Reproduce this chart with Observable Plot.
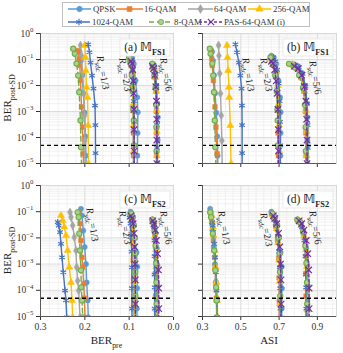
<!DOCTYPE html>
<html><head><meta charset="utf-8">
<script src="https://cdn.jsdelivr.net/npm/d3@7"></script>
<script src="https://cdn.jsdelivr.net/npm/@observablehq/plot@0.6"></script>
<style>
body{margin:0;background:#fff;}
#root{position:relative;width:343px;height:353px;overflow:hidden;font-family:"Liberation Serif","Times New Roman",serif;background:#fff;}
.panel{position:absolute;}
#legend{position:absolute;left:62px;top:2px;width:246px;height:23px;border:1px solid #bfbfbf;background:#fff;z-index:5;}
.lt{position:absolute;font-family:"Liberation Serif","Times New Roman",serif;font-size:8.8px;line-height:10px;color:#333;white-space:nowrap;}
.ls{position:absolute;}
</style></head><body><div id="root"><div id="legend"></div></div>
<script>
// ---------------- data ----------------
const seriesNames = ["QPSK","16-QAM","64-QAM","256-QAM","1024-QAM","8-QAM","PAS-64-QAM (i)"];
const seriesColors = ["#5B9BD5","#ED7D31","#A5A5A5","#FFC000","#4472C4","#70AD47","#7030A0"];
const seriesSymbols = ["circle","square","diamond","triangle","asterisk","circle","times"];
const seriesDash = [null,null,null,null,null,"5,3","3,2"];
const rateNames = ["1/3","2/3","5/6"];
const berThreshold = [5e-5];

// each point: [BER_pre, ASI, BER_post-SD]
const fs1_r13 = {
  "QPSK": [[0.212,0.350,0.2],[0.209,0.355,0.09],[0.206,0.36,0.025],[0.2035,0.366,0.005],[0.2005,0.372,9e-4],[0.1985,0.377,1.1e-4],[0.1975,0.379,2e-5],[0.197,0.38,8e-6]],
  "16-QAM": [[0.215,0.345,0.22],[0.2127,0.348,0.107],[0.2113,0.351,0.059],[0.2098,0.357,0.0155],[0.2075,0.365,0.0015],[0.2052,0.37,2.5e-4],[0.2037,0.376,2.4e-5],[0.203,0.378,8e-6]],
  "64-QAM": [[0.2098,0.384,0.35],[0.2075,0.386,0.14],[0.2052,0.39,0.029],[0.2023,0.394,0.0049],[0.2007,0.398,7e-4],[0.2,0.401,7.6e-5],[0.1996,0.403,8e-6]],
  "256-QAM": [[0.2,0.428,0.35],[0.1985,0.431,0.12],[0.1978,0.434,0.038],[0.1962,0.438,0.0085],[0.194,0.44,0.0035],[0.1924,0.445,2.9e-4],[0.1917,0.449,1e-5],[0.1915,0.45,7e-6]],
  "1024-QAM": [[0.1924,0.472,0.38],[0.1895,0.48,0.19],[0.1872,0.49,0.076],[0.1838,0.498,0.024],[0.1805,0.504,0.0076],[0.177,0.506,0.0017],[0.1762,0.507,3e-4],[0.1759,0.507,2.5e-5],[0.1759,0.507,7e-6]],
  "8-QAM": [[0.2262,0.338,0.26],[0.2226,0.342,0.166],[0.2188,0.351,0.07],[0.215,0.356,0.024],[0.2127,0.36,0.0055],[0.2098,0.364,4.5e-4],[0.2086,0.367,4.2e-5],[0.2075,0.37,8e-6]]
};
const fs1_r23 = {
  "QPSK": [[0.097,0.66,0.14],[0.093,0.672,0.12],[0.0895,0.685,0.068],[0.0857,0.697,0.0155],[0.0818,0.705,0.0035],[0.0805,0.708,9.4e-4],[0.081,0.708,1.5e-4],[0.0815,0.707,2e-5],[0.0818,0.707,8e-6]],
  "16-QAM": [[0.0985,0.66,0.091],[0.096,0.672,0.06],[0.0935,0.683,0.025],[0.092,0.69,0.006],[0.091,0.693,0.0011],[0.0905,0.695,1.5e-4],[0.0902,0.696,2e-5],[0.09,0.696,8e-6]],
  "64-QAM": [[0.099,0.662,0.1],[0.0965,0.673,0.07],[0.094,0.684,0.03],[0.0925,0.691,0.008],[0.0915,0.695,0.0015],[0.091,0.697,2e-4],[0.0905,0.698,2.5e-5],[0.0905,0.698,8e-6]],
  "256-QAM": [[0.0975,0.665,0.11],[0.095,0.676,0.08],[0.093,0.687,0.035],[0.0915,0.694,0.01],[0.0905,0.698,0.002],[0.09,0.7,3e-4],[0.0897,0.701,3e-5],[0.0897,0.701,8e-6]],
  "1024-QAM": [[0.096,0.67,0.12],[0.0935,0.68,0.085],[0.092,0.69,0.04],[0.0905,0.698,0.012],[0.0895,0.703,0.0025],[0.0888,0.705,4e-4],[0.0885,0.706,5e-5],[0.0885,0.706,8e-6]],
  "8-QAM": [[0.1,0.655,0.12],[0.0965,0.668,0.07],[0.094,0.68,0.025],[0.092,0.688,0.006],[0.0905,0.692,0.0012],[0.0895,0.693,4.5e-4],[0.0893,0.694,5e-5],[0.0893,0.694,8e-6]],
  "PAS-64-QAM (i)": [[0.096,0.66,0.085],[0.0935,0.668,0.07],[0.092,0.677,0.04],[0.0905,0.685,0.015],[0.0898,0.69,0.005],[0.0893,0.694,0.0012],[0.089,0.696,2e-4],[0.0888,0.697,3e-5],[0.0888,0.697,8e-6]]
};
const fs1_r56 = {
  "QPSK": [[0.0455,0.78,0.065],[0.0435,0.8,0.055],[0.041,0.82,0.03],[0.039,0.835,0.01],[0.0365,0.845,0.002],[0.0354,0.848,6e-4],[0.0356,0.848,8e-5],[0.036,0.848,1e-5],[0.036,0.848,7e-6]],
  "16-QAM": [[0.047,0.77,0.06],[0.0445,0.795,0.045],[0.042,0.815,0.02],[0.0395,0.83,0.006],[0.0385,0.838,0.001],[0.0383,0.84,1.5e-4],[0.0382,0.841,2e-5],[0.0382,0.841,8e-6]],
  "64-QAM": [[0.0465,0.77,0.062],[0.044,0.795,0.048],[0.0415,0.816,0.022],[0.0395,0.831,0.007],[0.0385,0.839,0.0013],[0.0382,0.842,2e-4],[0.038,0.843,2.5e-5],[0.038,0.843,8e-6]],
  "256-QAM": [[0.046,0.775,0.06],[0.0435,0.798,0.045],[0.041,0.818,0.02],[0.039,0.833,0.006],[0.038,0.84,0.0011],[0.0378,0.843,1.7e-4],[0.0377,0.844,2e-5],[0.0377,0.844,8e-6]],
  "1024-QAM": [[0.045,0.785,0.06],[0.043,0.803,0.05],[0.0405,0.823,0.028],[0.0385,0.838,0.009],[0.0375,0.846,0.002],[0.0372,0.849,3e-4],[0.0371,0.85,4e-5],[0.0371,0.85,8e-6]],
  "8-QAM": [[0.048,0.752,0.068],[0.046,0.78,0.05],[0.043,0.805,0.025],[0.0405,0.825,0.008],[0.0392,0.835,0.0018],[0.0385,0.839,2.5e-4],[0.0383,0.84,3e-5],[0.0383,0.84,8e-6]],
  "PAS-64-QAM (i)": [[0.0475,0.78,0.055],[0.045,0.8,0.045],[0.0425,0.818,0.025],[0.04,0.832,0.009],[0.0385,0.84,0.0025],[0.0378,0.844,5e-4],[0.0376,0.846,8e-5],[0.0375,0.846,1e-5],[0.0375,0.846,7e-6]]
};
const fs2_r13 = {
  "QPSK": [[0.2087,0.34,0.129],[0.2064,0.345,0.071],[0.2035,0.352,0.019],[0.2003,0.359,0.0045],[0.1974,0.365,0.001],[0.1958,0.37,2e-4],[0.1935,0.374,4.1e-5],[0.1922,0.377,9.3e-6]],
  "16-QAM": [[0.2139,0.343,0.095],[0.2109,0.35,0.035],[0.2087,0.357,0.0079],[0.2064,0.363,0.0018],[0.2048,0.366,7.6e-4],[0.2026,0.369,1.8e-4],[0.201,0.372,5e-5],[0.1996,0.374,9.3e-6]],
  "64-QAM": [[0.2334,0.345,0.095],[0.2312,0.348,0.062],[0.2274,0.352,0.0295],[0.2238,0.357,0.0107],[0.22,0.362,0.0033],[0.2184,0.367,7.6e-4],[0.2161,0.37,2.3e-4],[0.2139,0.372,9.8e-5],[0.2109,0.376,9.3e-6]],
  "256-QAM": [[0.2538,0.348,0.071],[0.25,0.351,0.046],[0.2464,0.355,0.026],[0.2425,0.358,0.0123],[0.2387,0.364,0.0033],[0.2351,0.369,7.6e-4],[0.2312,0.373,2e-4],[0.229,0.376,4.1e-5],[0.2274,0.379,9.3e-6]],
  "1024-QAM": [[0.2612,0.35,0.04],[0.259,0.353,0.0295],[0.256,0.356,0.0166],[0.2538,0.361,0.0059],[0.2515,0.366,0.0018],[0.2486,0.37,4.9e-4],[0.2447,0.373,9.8e-5],[0.2425,0.375,4.1e-5],[0.2409,0.377,9.3e-6]],
  "8-QAM": [[0.2161,0.34,0.095],[0.2139,0.345,0.062],[0.2125,0.354,0.0145],[0.2109,0.361,0.0033],[0.2087,0.367,5.8e-4],[0.208,0.371,1.3e-4],[0.2064,0.374,4.1e-5],[0.2048,0.376,9.3e-6]]
};
const fs2_r23 = {
  "QPSK": [[0.097,0.66,0.1],[0.094,0.672,0.075],[0.0905,0.686,0.035],[0.087,0.698,0.01],[0.0835,0.708,0.0028],[0.0818,0.714,8e-4],[0.082,0.715,1.2e-4],[0.0825,0.714,2e-5],[0.0825,0.714,8e-6]],
  "16-QAM": [[0.097,0.66,0.085],[0.095,0.67,0.06],[0.093,0.682,0.028],[0.0915,0.692,0.008],[0.0905,0.698,0.0017],[0.0898,0.7,3e-4],[0.0895,0.701,4e-5],[0.0893,0.701,8e-6]],
  "64-QAM": [[0.0985,0.664,0.08],[0.096,0.674,0.055],[0.0935,0.685,0.025],[0.092,0.694,0.007],[0.091,0.699,0.0015],[0.0903,0.701,2.5e-4],[0.09,0.702,3e-5],[0.09,0.702,8e-6]],
  "256-QAM": [[0.0965,0.666,0.075],[0.094,0.676,0.05],[0.0925,0.687,0.022],[0.091,0.695,0.0065],[0.0898,0.7,0.0014],[0.089,0.703,2.2e-4],[0.0888,0.704,3e-5],[0.0888,0.704,8e-6]],
  "1024-QAM": [[0.099,0.672,0.06],[0.097,0.683,0.035],[0.0955,0.693,0.012],[0.0945,0.7,0.003],[0.094,0.704,7.5e-4],[0.0938,0.706,1.2e-4],[0.0937,0.707,2e-5],[0.0937,0.707,8e-6]],
  "8-QAM": [[0.095,0.665,0.085],[0.092,0.678,0.06],[0.0895,0.69,0.03],[0.0878,0.698,0.01],[0.0868,0.703,0.0025],[0.0862,0.705,5e-4],[0.086,0.706,6e-5],[0.086,0.706,8e-6]],
  "PAS-64-QAM (i)": [[0.096,0.67,0.07],[0.0935,0.678,0.055],[0.091,0.688,0.035],[0.089,0.697,0.015],[0.0875,0.704,0.0045],[0.0867,0.708,0.001],[0.0862,0.71,2.5e-4],[0.086,0.711,3e-5],[0.086,0.711,8e-6]]
};
const fs2_r56 = {
  "QPSK": [[0.046,0.8,0.048],[0.043,0.815,0.035],[0.04,0.83,0.015],[0.0375,0.842,0.004],[0.0362,0.848,9e-4],[0.0358,0.85,1.5e-4],[0.0356,0.851,2e-5],[0.0356,0.851,8e-6]],
  "16-QAM": [[0.047,0.8,0.045],[0.0445,0.815,0.03],[0.042,0.828,0.014],[0.0406,0.838,0.0079],[0.0405,0.84,0.002],[0.0405,0.84,4.4e-4],[0.0404,0.841,6e-5],[0.0404,0.841,8e-6]],
  "64-QAM": [[0.0475,0.798,0.047],[0.045,0.812,0.033],[0.0425,0.826,0.014],[0.0405,0.838,0.004],[0.0395,0.844,9e-4],[0.039,0.846,1.5e-4],[0.0388,0.847,2e-5],[0.0388,0.847,8e-6]],
  "256-QAM": [[0.047,0.802,0.045],[0.044,0.816,0.03],[0.0415,0.83,0.012],[0.0398,0.84,0.0035],[0.039,0.845,8e-4],[0.0385,0.847,1.2e-4],[0.0384,0.848,1.8e-5],[0.0384,0.848,8e-6]],
  "1024-QAM": [[0.046,0.805,0.04],[0.044,0.82,0.025],[0.043,0.832,0.008],[0.0428,0.838,0.002],[0.0428,0.84,4e-4],[0.0426,0.841,1.3e-4],[0.0425,0.842,2e-5],[0.0425,0.842,8e-6]],
  "8-QAM": [[0.048,0.795,0.05],[0.0455,0.81,0.04],[0.0428,0.825,0.018],[0.0405,0.837,0.005],[0.039,0.843,0.0011],[0.0383,0.846,2e-4],[0.038,0.847,3e-5],[0.038,0.847,8e-6]],
  "PAS-64-QAM (i)": [[0.0465,0.805,0.045],[0.044,0.818,0.035],[0.041,0.83,0.02],[0.0385,0.842,0.008],[0.036,0.85,0.0025],[0.0338,0.855,6e-4],[0.0333,0.857,1.2e-4],[0.0332,0.857,2e-5],[0.0332,0.857,8e-6]]
};

// axis ticks
const yTicks = [1e-5,1e-4,1e-3,1e-2,1e-1,1];
const preTicks = [0.3,0.2,0.1,0.0];
const asiTicks = [0.3,0.5,0.7,0.9];

// annotation anchors (data coordinates) for the R_sdc labels
const rsdcA = [[0.165,0.029],[0.115,0.0243],[0.0225,0.0243]];
const rsdcB = [[0.525,0.0243],[0.619,0.0243],[0.875,0.0186]];
const rsdcC = [[0.189,0.0297],[0.115,0.0228],[0.0225,0.0228]];
const rsdcD = [[0.399,0.0228],[0.619,0.019],[0.875,0.0228]];

// ---------------- helpers ----------------
const yMinor = [];
for (let e = -5; e < 0; e++) for (let m = 2; m <= 9; m++) yMinor.push(m * Math.pow(10, e));
const preMinor = d3.range(1, 15).map(i => i * 0.02).filter(v => preTicks.every(t => Math.abs(t - v) > 0.005));
const asiMinor = d3.range(0, 18).map(i => 0.3 + i * 0.04).filter(v => v < 1 && asiTicks.every(t => Math.abs(t - v) > 0.005));

function rich(textSel, parts, size) {
  let shift = 0;
  parts.forEach(p => {
    const ts = textSel.append("tspan").text(p.t);
    const target = p.sub ? size * 0.32 : p.sup ? -size * 0.45 : 0;
    ts.attr("dy", (target - shift).toFixed(2));
    shift = target;
    ts.attr("font-size", (p.sub || p.sup) ? (size * 0.72).toFixed(2) : size);
    if (p.italic) ts.attr("font-style", "italic");
    if (p.bold) ts.attr("font-weight", "bold");
    if (p.family) ts.attr("font-family", p.family);
  });
}

const root = document.getElementById("root");

function makePanel(cfg) {
  const rows = [];
  cfg.groups.forEach((g, gi) => {
    seriesNames.forEach(s => (g[s] || []).forEach(p =>
      rows.push({series: s, rate: rateNames[gi], pre: p[0], asi: p[1], post: p[2]})));
  });
  const xk = cfg.xKey;
  const marks = [
    Plot.ruleY(yMinor, {stroke: "#eeeeee", strokeWidth: 0.8}),
    Plot.ruleX(cfg.xMinor, {stroke: "#eeeeee", strokeWidth: 0.8}),
    Plot.ruleY(yTicks, {stroke: "#d9d9d9", strokeWidth: 0.9}),
    Plot.ruleX(cfg.xTicks, {stroke: "#d9d9d9", strokeWidth: 0.9}),
    Plot.frame({stroke: "#d9d9d9"})
  ];
  seriesNames.forEach((s, i) => {
    const d = rows.filter(r => r.series === s);
    if (!d.length) return;
    const lo = {x: xk, y: "post", z: "rate", stroke: seriesColors[i], strokeWidth: 1.4, clip: true};
    if (seriesDash[i]) lo.strokeDasharray = seriesDash[i];
    marks.push(Plot.line(d, lo));
    const sym = seriesSymbols[i];
    const strokeOnly = sym === "asterisk" || sym === "times";
    const dotOpts = {x: xk, y: "post", symbol: () => sym, clip: true};
    if (strokeOnly) Object.assign(dotOpts, {r: 3, fill: "none", stroke: seriesColors[i], strokeWidth: 1.2});
    else if (s === "8-QAM") Object.assign(dotOpts, {r: 2.6, fill: "#a9d18e", stroke: seriesColors[i], strokeWidth: 1.1});
    else Object.assign(dotOpts, {r: 2.6, fill: seriesColors[i], stroke: seriesColors[i], strokeWidth: 0.5});
    marks.push(Plot.dot(d, dotOpts));
  });
  marks.push(Plot.ruleY(berThreshold, {stroke: "#000", strokeWidth: 1.4, strokeDasharray: "4,3"}));
  marks.push(Plot.ruleX([cfg.xDomain[0]], {stroke: "#595959", strokeWidth: 1}));
  marks.push(Plot.ruleY([1e-5], {stroke: "#595959", strokeWidth: 1}));

  const plot = Plot.plot({
    width: cfg.width, height: cfg.height,
    marginLeft: cfg.ml, marginRight: cfg.mr, marginTop: cfg.mt, marginBottom: cfg.mb,
    style: {fontFamily: "'Liberation Serif','Times New Roman',serif", fontSize: "9.5px", color: "#333", overflow: "visible", background: "transparent", maxWidth: "none"},
    x: {domain: cfg.xDomain, ticks: cfg.xTicks, tickFormat: cfg.showX ? d3.format(".1f") : () => "", tickSize: 4, tickPadding: 3, label: null},
    y: {type: "log", domain: [1e-5, 1], ticks: yTicks, tickFormat: cfg.showY ? (d => "10^" + Math.round(Math.log10(d))) : () => "", tickSize: 4, tickPadding: 3, label: null},
    marks
  });

  const wrap = document.createElement("div");
  wrap.className = "panel";
  wrap.style.left = cfg.left + "px";
  wrap.style.top = cfg.top + "px";
  wrap.style.width = cfg.width + "px";
  wrap.style.height = cfg.height + "px";
  wrap.appendChild(plot);
  root.appendChild(wrap);

  const svg = d3.select(plot);
  // superscript tick labels
  svg.selectAll("text").each(function() {
    const t = this.textContent;
    if (/^10\^/.test(t)) {
      const e = t.slice(3).replace("-", "\u2212");
      const sel = d3.select(this);
      sel.text("");
      rich(sel, [{t: "10"}, {t: e, sup: true}], 9.5);
    }
  });
  const sx = plot.scale("x"), sy = plot.scale("y");
  const fL = cfg.ml, fR = cfg.width - cfg.mr, fT = cfg.mt, fB = cfg.height - cfg.mb;
  const g = svg.append("g").attr("fill", "#222");

  // R_sdc labels
  cfg.rsdc.forEach((p, i) => {
    const t = g.append("text")
      .attr("transform", `translate(${sx.apply(p[0]).toFixed(1)},${sy.apply(p[1]).toFixed(1)}) rotate(80)`)
      .attr("text-anchor", "middle").attr("dy", "0.35em").attr("font-size", 10);
    rich(t, [{t: "R", italic: true}, {t: "sdc", sub: true}, {t: "=" + rateNames[i]}], 10);
  });

  // panel label box
  const bw = 50, bh = 17, bx = fR - 3 - bw, by = fT + 6;
  g.append("rect").attr("x", bx).attr("y", by).attr("width", bw).attr("height", bh)
    .attr("fill", "#fff").attr("stroke", "#e3e3e3").attr("stroke-width", 0.8);
  const lt = g.append("text").attr("x", bx + bw / 2).attr("y", by + 12.3).attr("text-anchor", "middle").attr("font-size", 11.5);
  rich(lt, [{t: cfg.tag + " "}, {t: "\u{1D544}", family: "'DejaVu Sans',serif", bold: true}, {t: cfg.fs, sub: true, bold: true}], 11.5);

  // axis titles
  if (cfg.showY) {
    const yt = g.append("text").attr("transform", `translate(11,${((fT + fB) / 2).toFixed(1)}) rotate(-90)`)
      .attr("text-anchor", "middle").attr("font-size", 11);
    rich(yt, [{t: "BER"}, {t: "post-SD", sub: true}], 11);
  }
  if (cfg.xTitle) {
    const xt = g.append("text").attr("x", (fL + fR) / 2).attr("y", fB + 28).attr("text-anchor", "middle").attr("font-size", 11);
    rich(xt, cfg.xTitle, 11);
  }
}

makePanel({left: 0, top: 28, width: 180, height: 140, ml: 40, mr: 7, mt: 5, mb: 5,
  groups: [fs1_r13, fs1_r23, fs1_r56], xKey: "pre", xDomain: [0.3, 0], xTicks: preTicks, xMinor: preMinor,
  showX: false, showY: true, rsdc: rsdcA, tag: "(a)", fs: "FS1"});
makePanel({left: 180, top: 28, width: 163, height: 140, ml: 22, mr: 7, mt: 5, mb: 5,
  groups: [fs1_r13, fs1_r23, fs1_r56], xKey: "asi", xDomain: [0.3, 1.0], xTicks: asiTicks, xMinor: asiMinor,
  showX: false, showY: false, rsdc: rsdcB, tag: "(b)", fs: "FS1"});
makePanel({left: 0, top: 180, width: 180, height: 173, ml: 40, mr: 7, mt: 5, mb: 37,
  groups: [fs2_r13, fs2_r23, fs2_r56], xKey: "pre", xDomain: [0.3, 0], xTicks: preTicks, xMinor: preMinor,
  showX: true, showY: true, rsdc: rsdcC, tag: "(c)", fs: "FS2", xTitle: [{t: "BER"}, {t: "pre", sub: true}]});
makePanel({left: 180, top: 180, width: 163, height: 173, ml: 22, mr: 7, mt: 5, mb: 37,
  groups: [fs2_r13, fs2_r23, fs2_r56], xKey: "asi", xDomain: [0.3, 1.0], xTicks: asiTicks, xMinor: asiMinor,
  showX: true, showY: false, rsdc: rsdcD, tag: "(d)", fs: "FS2", xTitle: [{t: "ASI"}]});

// ---------------- legend ----------------
const legend = document.getElementById("legend");
const legendLayout = [
  [0, 5, 28, 30, 6], [1, 53, 80, 81, 6], [2, 125, 150, 151, 6], [3, 185, 208, 210, 6],
  [4, 5, 27, 29, 19], [5, 86, 110, 111, 19], [6, 136, 160, 161, 19]
];
const d3sym = {circle: d3.symbolCircle, square: d3.symbolSquare, diamond: d3.symbolDiamond, triangle: d3.symbolTriangle, asterisk: d3.symbolAsterisk, times: d3.symbolTimes};
legendLayout.forEach(([i, s0, s1, tx, cy]) => {
  const w = s1 - s0;
  const sv = d3.create("svg").attr("width", w).attr("height", 10).attr("class", "ls")
    .style("left", s0 + "px").style("top", (cy - 5) + "px");
  sv.append("line").attr("x1", 0).attr("x2", w).attr("y1", 5).attr("y2", 5)
    .attr("stroke", seriesColors[i]).attr("stroke-width", 1.5)
    .attr("stroke-dasharray", seriesDash[i] || null);
  const sym = seriesSymbols[i];
  const strokeOnly = sym === "asterisk" || sym === "times";
  sv.append("path").attr("transform", `translate(${w / 2},5)`)
    .attr("d", d3.symbol(d3sym[sym], strokeOnly ? 28 : 22)())
    .attr("fill", strokeOnly ? "none" : (i === 5 ? "#a9d18e" : seriesColors[i]))
    .attr("stroke", seriesColors[i]).attr("stroke-width", strokeOnly ? 1.2 : 0.8);
  legend.appendChild(sv.node());
  const t = document.createElement("div");
  t.className = "lt";
  t.style.left = tx + "px";
  t.style.top = (cy - 5) + "px";
  t.textContent = seriesNames[i];
  legend.appendChild(t);
});
</script></body></html>
